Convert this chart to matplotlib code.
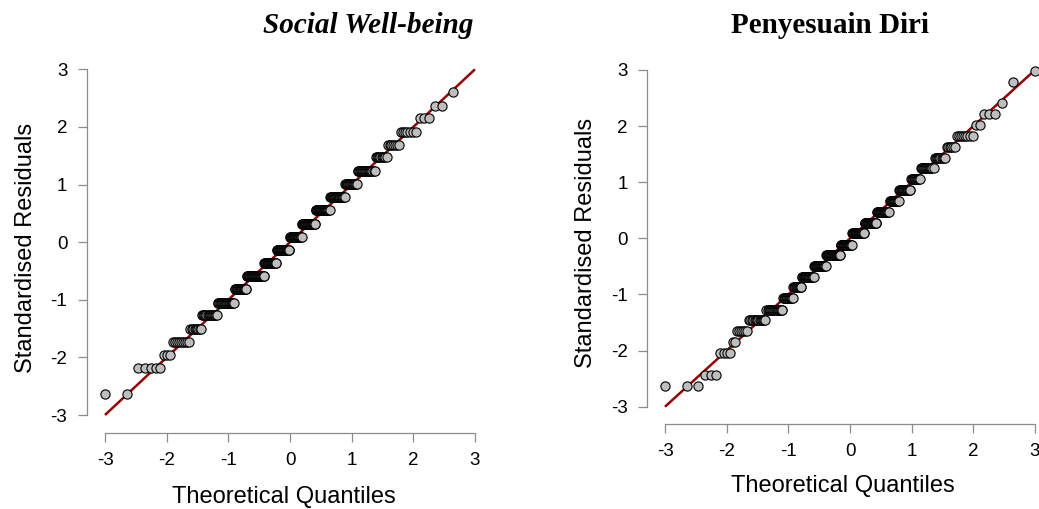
import matplotlib
matplotlib.use("Agg")
import matplotlib.pyplot as plt
from statistics import NormalDist

# ---------------- data ----------------
n_obs = 370  # sample size used for the theoretical quantiles

# Social Well-being: discrete standardised-residual levels and number of cases at each
swb_levels = [-2.64, -2.19, -1.96, -1.73, -1.50, -1.27, -1.05, -0.82, -0.59, -0.36,
              -0.13, 0.09, 0.32, 0.55, 0.78, 1.01, 1.23, 1.47, 1.69, 1.92, 2.15,
              2.37, 2.60]
swb_counts = [2, 5, 3, 9, 9, 16, 24, 21, 36, 28, 31, 29, 31, 30, 27, 18, 20, 10, 7,
              7, 3, 2, 1]

# Penyesuain Diri
pd_levels = [-2.63, -2.43, -2.04, -1.84, -1.65, -1.46, -1.27, -1.07, -0.87, -0.68,
             -0.49, -0.30, -0.11, 0.09, 0.28, 0.47, 0.67, 0.86, 1.05, 1.25, 1.44,
             1.63, 1.83, 2.02, 2.21, 2.41, 2.79, 2.98]
pd_counts = [3, 3, 4, 2, 6, 14, 19, 15, 14, 23, 26, 33, 28, 29, 28, 26, 18, 19, 13,
             15, 10, 6, 8, 2, 3, 1, 1, 1]

tick_values = [-3, -2, -1, 0, 1, 2, 3]
tick_labels = ["-3", "-2", "-1", "0", "1", "2", "3"]
titles = ["Social Well-being", "Penyesuain Diri"]
xlabel = "Theoretical Quantiles"
ylabel = "Standardised Residuals"

# ---------------- helpers ----------------
W, H = 1039, 509
fig = plt.figure(figsize=(W / 100, H / 100), dpi=100)
nd = NormalDist()


def qq_points(levels, counts, n):
    ys = []
    for lv, c in zip(levels, counts):
        ys.extend([lv] * c)
    xs = [nd.inv_cdf((k + 0.5) / n) for k in range(len(ys))]
    return xs, ys


def make_axes(x_m3, x_p3, y_p3, y_m3, spine_x, spine_y, right_px, top_px):
    sx = (x_p3 - x_m3) / 6.0
    sy = (y_m3 - y_p3) / 6.0
    def dx(px):
        return -3 + (px - x_m3) / sx
    def dy(py):
        return 3 - (py - y_p3) / sy
    left = spine_x / W
    bottom = 1 - spine_y / H
    width = (right_px - spine_x) / W
    height = (spine_y - top_px) / H
    ax = fig.add_axes([left, bottom, width, height])
    ax.set_xlim(dx(spine_x), dx(right_px))
    ax.set_ylim(dy(spine_y), dy(top_px))
    return ax


grey = "#8c8c8c"


def style(ax, xlab_pad, ylab_pad):
    for s in ["top", "right"]:
        ax.spines[s].set_visible(False)
    for s in ["left", "bottom"]:
        ax.spines[s].set_color(grey)
        ax.spines[s].set_linewidth(0.9)
        ax.spines[s].set_bounds(-3, 3)
    ax.set_xticks(tick_values)
    ax.set_xticklabels(tick_labels)
    ax.set_yticks(tick_values)
    ax.set_yticklabels(tick_labels)
    ax.tick_params(axis="both", direction="out", length=6.8, width=0.9,
                   color=grey, labelsize=13.5, labelcolor="black", pad=7)
    ax.set_xlabel(xlabel, fontsize=17, labelpad=xlab_pad)
    ax.set_ylabel(ylabel, fontsize=17, labelpad=ylab_pad)
    ax.patch.set_alpha(0)


plt.rcParams["font.family"] = ["Liberation Sans", "DejaVu Sans"]

configs = [
    dict(levels=swb_levels, counts=swb_counts,
         geom=(105, 475, 69.3, 415, 86.5, 433, 482, 62),
         title_x=368, style="italic", xpad=12, ypad=10),
    dict(levels=pd_levels, counts=pd_counts,
         geom=(665, 1035, 70, 406.7, 646.7, 424, 1039, 62),
         title_x=830, style="normal", xpad=10.5, ypad=10),
]

for cfg, title in zip(configs, titles):
    ax = make_axes(*cfg["geom"])
    style(ax, cfg["xpad"], cfg["ypad"])
    ax.plot([-3, 3], [-3, 3], color="#990000", lw=1.8, zorder=2, solid_capstyle="butt")
    xs, ys = qq_points(cfg["levels"], cfg["counts"], n_obs)
    ax.scatter(xs, ys, s=44, facecolor="#bebebe", edgecolor="black",
               linewidths=0.8, zorder=3, clip_on=False)
    fig.text(cfg["title_x"] / W, 1 - 33 / H, title, ha="center", va="baseline",
             fontsize=21, fontweight="bold", fontstyle=cfg["style"],
             family=["Liberation Serif", "DejaVu Serif"])

fig.savefig("out.png", dpi=100)
